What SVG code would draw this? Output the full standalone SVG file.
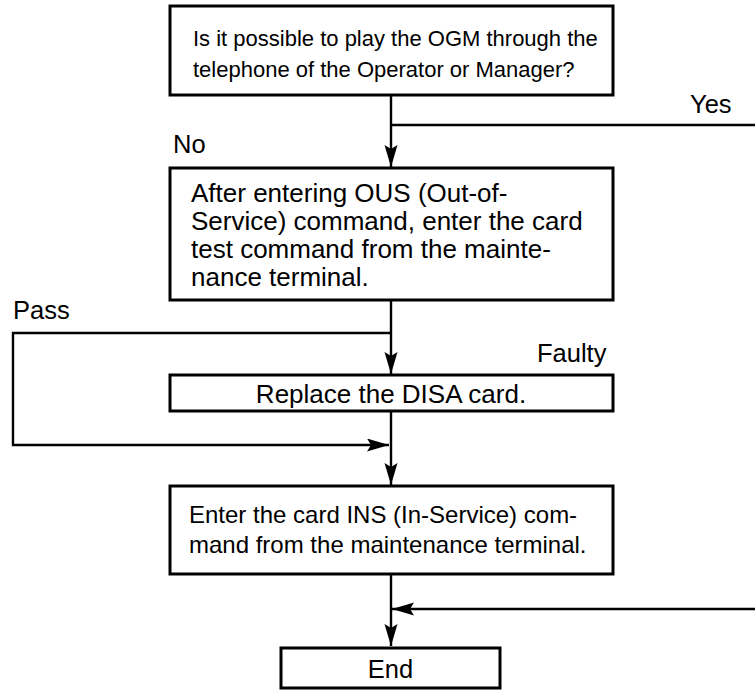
<svg xmlns="http://www.w3.org/2000/svg" width="755" height="691" viewBox="0 0 755 691">
<style>
.box{fill:#fff;stroke:#000;stroke-width:3}
.ln{fill:none;stroke:#000;stroke-width:2.4}
.t{font-family:"Liberation Sans",Arial,Helvetica,sans-serif;fill:#000}
.lbl{font-size:25.5px}
.b1{font-size:22px}
.b2{font-size:26px}
.b4{font-size:24px}
</style>
<defs>
<marker id="ah" markerUnits="userSpaceOnUse" markerWidth="24" markerHeight="14" refX="22" refY="6.5" orient="auto">
<path d="M0,0 L22,6.5 L0,13 L4,6.5 z" fill="#000"/>
</marker>
</defs>
<g id="connectors">
<line class="ln" x1="391" y1="95" x2="391" y2="167" marker-end="url(#ah)"/>
<line class="ln" x1="391" y1="125" x2="755" y2="125"/>
<line class="ln" x1="391" y1="300" x2="391" y2="374" marker-end="url(#ah)"/>
<polyline class="ln" points="391,333 13,333 13,445 389,445" marker-end="url(#ah)"/>
<line class="ln" x1="391" y1="411" x2="391" y2="485" marker-end="url(#ah)"/>
<line class="ln" x1="391" y1="574" x2="391" y2="646" marker-end="url(#ah)"/>
<line class="ln" x1="755" y1="609" x2="392" y2="609" marker-end="url(#ah)"/>
<text class="t lbl" x="690" y="113">Yes</text>
<text class="t lbl" x="173" y="153">No</text>
<text class="t lbl" x="13" y="319">Pass</text>
<text class="t lbl" x="537" y="362">Faulty</text>
</g>
<g id="n1">
<rect class="box" x="170" y="6" width="443" height="89"/>
<text class="t b1" x="193" y="46">Is it possible to play the OGM through the</text>
<text class="t b1" x="193" y="77">telephone of the Operator or Manager?</text>
</g>
<g id="n2">
<rect class="box" x="170" y="168" width="443" height="132"/>
<text class="t b2" x="191" y="202">After entering OUS (Out-of-</text>
<text class="t b2" x="191" y="230">Service) command, enter the card</text>
<text class="t b2" x="191" y="258">test command from the mainte-</text>
<text class="t b2" x="191" y="286">nance terminal.</text>
</g>
<g id="n3">
<rect class="box" x="170" y="375" width="443" height="36"/>
<text class="t b2" x="391" y="403" text-anchor="middle">Replace the DISA card.</text>
</g>
<g id="n4">
<rect class="box" x="170" y="486" width="443" height="88"/>
<text class="t b4" x="189" y="523">Enter the card INS (In-Service) com-</text>
<text class="t b4" x="189" y="553">mand from the maintenance terminal.</text>
</g>
<g id="n5">
<rect class="box" x="281" y="648" width="219" height="40"/>
<text class="t lbl" x="390.5" y="678" text-anchor="middle">End</text>
</g>
</svg>
